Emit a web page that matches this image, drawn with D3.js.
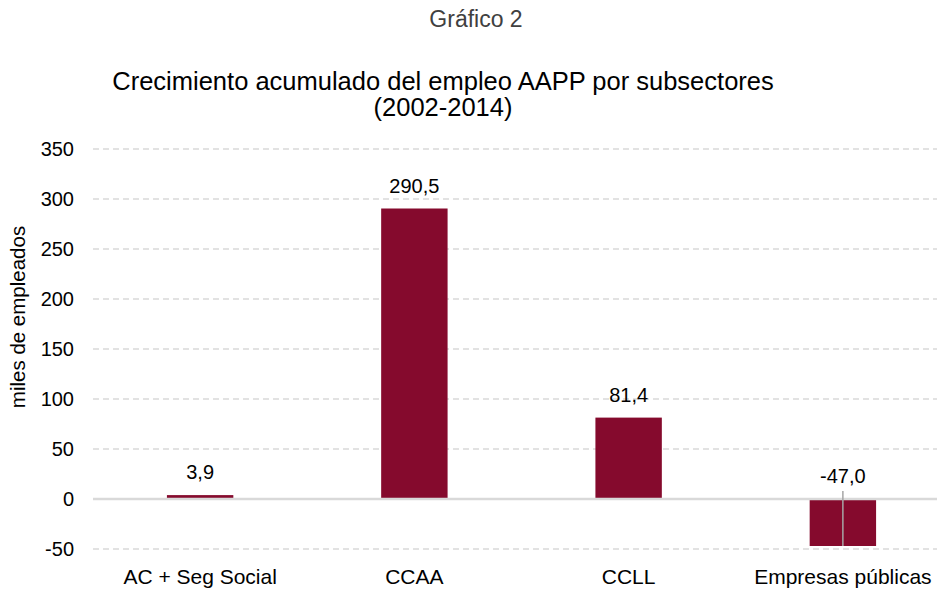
<!DOCTYPE html>
<html><head><meta charset="utf-8">
<script src="https://cdn.jsdelivr.net/npm/d3@7"></script>
<style>body{margin:0;background:#fff}svg{font-family:"Liberation Sans",Arial,sans-serif}</style>
</head><body><svg id="c" width="945" height="590"></svg>
<script>
const categories = ["AC + Seg Social", "CCAA", "CCLL", "Empresas públicas"];
const values = [3.9, 290.5, 81.4, -47.0];
const yTicks = [-50, 0, 50, 100, 150, 200, 250, 300, 350];

const FF = "Liberation Sans, Arial, sans-serif";
const svg = d3.select("#c");
const x = d3.scaleBand().domain(categories).range([93, 950]).paddingInner(0.69).paddingOuter(0.345);
const y = d3.scaleLinear().domain([-50, 350]).range([549, 149]);
const fmt = v => d3.format(".1f")(v).replace(".", ",").replace("\u2212", "-");

svg.append("text").attr("x", 476).attr("y", 27).attr("text-anchor", "middle")
  .attr("font-size", 23).attr("fill", "#404040").text("Gráfico 2");
svg.append("text").attr("x", 443).attr("y", 90).attr("text-anchor", "middle")
  .attr("font-size", 25.5).attr("fill", "#000").text("Crecimiento acumulado del empleo AAPP por subsectores");
svg.append("text").attr("x", 443).attr("y", 116).attr("text-anchor", "middle")
  .attr("font-size", 25.5).attr("fill", "#000").text("(2002-2014)");

// gridlines
svg.append("g").selectAll("line").data(yTicks.filter(t => t !== 0)).join("line")
  .attr("x1", 93).attr("x2", 937).attr("y1", d => y(d)).attr("y2", d => y(d))
  .attr("stroke", "#d9d9d9").attr("stroke-width", 1.3).attr("stroke-dasharray", "6,4");

// y axis labels
const yAxis = d3.axisLeft(y).tickValues(yTicks).tickSize(0).tickPadding(0).tickFormat(d => d);
const ya = svg.append("g").attr("transform", "translate(74,0)").call(yAxis);
ya.select(".domain").remove();
ya.attr("font-size", 20).attr("font-family", FF);
ya.selectAll("text").attr("fill", "#000");

svg.append("text").attr("transform", "translate(25,317) rotate(-90)").attr("text-anchor", "middle")
  .attr("font-size", 20.5).attr("fill", "#000").text("miles de empleados");

// bars
svg.append("g").selectAll("rect").data(values).join("rect")
  .attr("x", (d, i) => x(categories[i])).attr("width", x.bandwidth())
  .attr("y", d => y(Math.max(d, 0))).attr("height", d => Math.abs(y(d) - y(0)))
  .attr("fill", "#850A2D");

// zero line
svg.append("line").attr("x1", 93).attr("x2", 937).attr("y1", y(0)).attr("y2", y(0))
  .attr("stroke", "#d9d9d9").attr("stroke-width", 2.3);

// leader line for negative
svg.append("g").selectAll("line").data(values.map((v, i) => ({v, c: categories[i]})).filter(d => d.v < 0)).join("line")
  .attr("x1", d => x(d.c) + x.bandwidth() / 2).attr("x2", d => x(d.c) + x.bandwidth() / 2)
  .attr("y1", y(0) - 8).attr("y2", d => y(d.v))
  .attr("stroke", "#a6a6a6").attr("stroke-width", 1.5);

// value labels
svg.append("g").selectAll("text").data(values).join("text")
  .attr("x", (d, i) => x(categories[i]) + x.bandwidth() / 2)
  .attr("y", d => y(Math.max(d, 0)) - 16)
  .attr("text-anchor", "middle").attr("font-size", 20).attr("fill", "#000")
  .text(d => fmt(d));

// x axis labels
const xAxis = d3.axisBottom(x).tickSize(0).tickPadding(0);
const xa = svg.append("g").attr("transform", "translate(0,584)").call(xAxis);
xa.select(".domain").remove();
xa.attr("font-size", 21).attr("font-family", FF);
xa.selectAll("text").attr("fill", "#000").attr("dy", "0");
</script></body></html>
